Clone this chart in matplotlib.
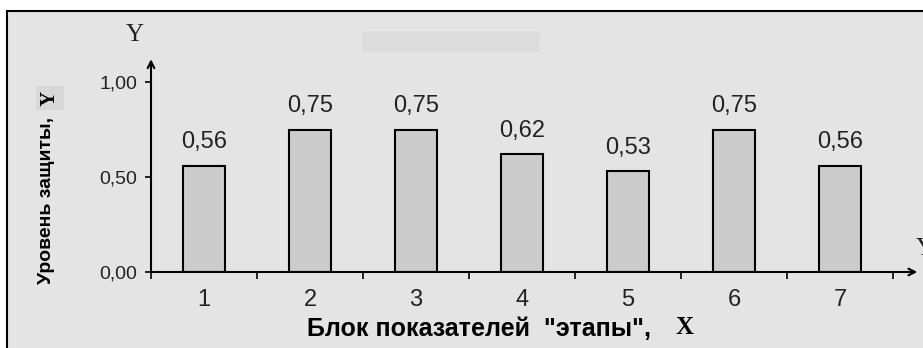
import matplotlib
matplotlib.use("Agg")
import matplotlib.pyplot as plt
from matplotlib.patches import Rectangle, FancyBboxPatch

# Data
categories = [1, 2, 3, 4, 5, 6, 7]
values = [0.56, 0.75, 0.75, 0.62, 0.53, 0.75, 0.56]
y_ticks = [0.0, 0.5, 1.0]
y_tick_labels = ["0,00", "0,50", "1,00"]
x_label = "Блок показателей  \"этапы\","
y_label = "Уровень защиты,"

W, H = 923, 348
fig = plt.figure(figsize=(W / 100, H / 100), dpi=100)
fig.patch.set_facecolor("white")

BG = "#e4e4e4"
# framed chart area (extends past the right and bottom edges)
fig.patches.append(Rectangle((7 / W, -0.05), 1.05, 1 - 11 / H + 0.05,
                             transform=fig.transFigure, facecolor=BG,
                             edgecolor="black", linewidth=1.5, zorder=-2))
# faded chart title
fig.patches.append(FancyBboxPatch((366 / W, 1 - 50 / H), 170 / W, 17 / H,
                                  boxstyle="round,pad=0.004",
                                  transform=fig.transFigure,
                                  facecolor="#d9d9d9", edgecolor="none",
                                  alpha=0.7, zorder=-1))

# axes: x 0.5..7.5 -> px 151..893, y 0..1 -> px 272..82
ax = fig.add_axes([151 / W, 1 - 272 / H, (893 - 151) / W, (272 - 82) / H])
ax.set_facecolor("none")
ax.set_xlim(0.5, 7.5)
ax.set_ylim(0, 1)
for s in ax.spines.values():
    s.set_visible(False)

ax.bar(categories, values, width=0.4, color="#cccccc",
       edgecolor="black", linewidth=1.5, zorder=3)

for x, v in zip(categories, values):
    ax.text(x, v + 0.065, f"{v:.2f}".replace(".", ","), ha="center",
            va="bottom", fontsize=17, color="#222222",
            family="Liberation Sans")

# axis lines with arrow heads
ax.annotate("", xy=(0.5, 1.12), xytext=(0.5, 0.0),
            arrowprops=dict(arrowstyle="->", lw=1.5, color="black",
                            shrinkA=0, shrinkB=0, mutation_scale=12),
            annotation_clip=False)
ax.annotate("", xy=(7.73, 0.0), xytext=(0.5, 0.0),
            arrowprops=dict(arrowstyle="->", lw=1.5, color="black",
                            shrinkA=0, shrinkB=0, mutation_scale=12),
            annotation_clip=False)

ax.text(0.35, 1.19, "Y", ha="center", va="bottom", fontsize=18,
        family="Liberation Serif", color="#222222")
fig.text(916 / W, 1 - 260 / H, "Y", ha="left", va="bottom", fontsize=18,
         family="Liberation Serif", color="#222222")

# y ticks
ax.set_yticks(y_ticks)
ax.set_yticklabels(y_tick_labels, fontsize=14, color="#222222",
                   family="Liberation Sans")
ax.tick_params(axis="y", length=4, width=1.2, direction="out", pad=6)

# x ticks between categories, labels at categories
ax.set_xticks([c - 0.5 for c in categories] + [categories[-1] + 0.5])
ax.set_xticklabels([])
ax.tick_params(axis="x", length=5, width=1.2, direction="out")
ax.set_xticks(categories, minor=True)
ax.set_xticklabels([str(c) for c in categories], minor=True, fontsize=17,
                   color="#222222", family="Liberation Sans")
ax.tick_params(axis="x", which="minor", length=0, pad=12)

# axis titles
fig.text(307 / W, 1 - 329 / H, x_label, ha="left", va="center",
         fontsize=18, fontweight="bold", family="Liberation Sans")
fig.text(676 / W, 1 - 327 / H, "X", ha="left", va="center",
         fontsize=18, fontweight="bold", family="Liberation Serif")

fig.text(47 / W, 1 - 200 / H, y_label, ha="center", va="center",
         rotation=90, fontsize=14, fontweight="bold",
         family="Liberation Sans")
fig.text(50 / W, 1 - 98 / H, "Y", ha="center", va="center", rotation=90,
         fontsize=15, fontweight="bold", family="Liberation Serif",
         bbox=dict(boxstyle="square,pad=0.2", facecolor="#d8d8d8",
                   edgecolor="none"))

fig.savefig("out.png", dpi=100, facecolor=fig.get_facecolor())
